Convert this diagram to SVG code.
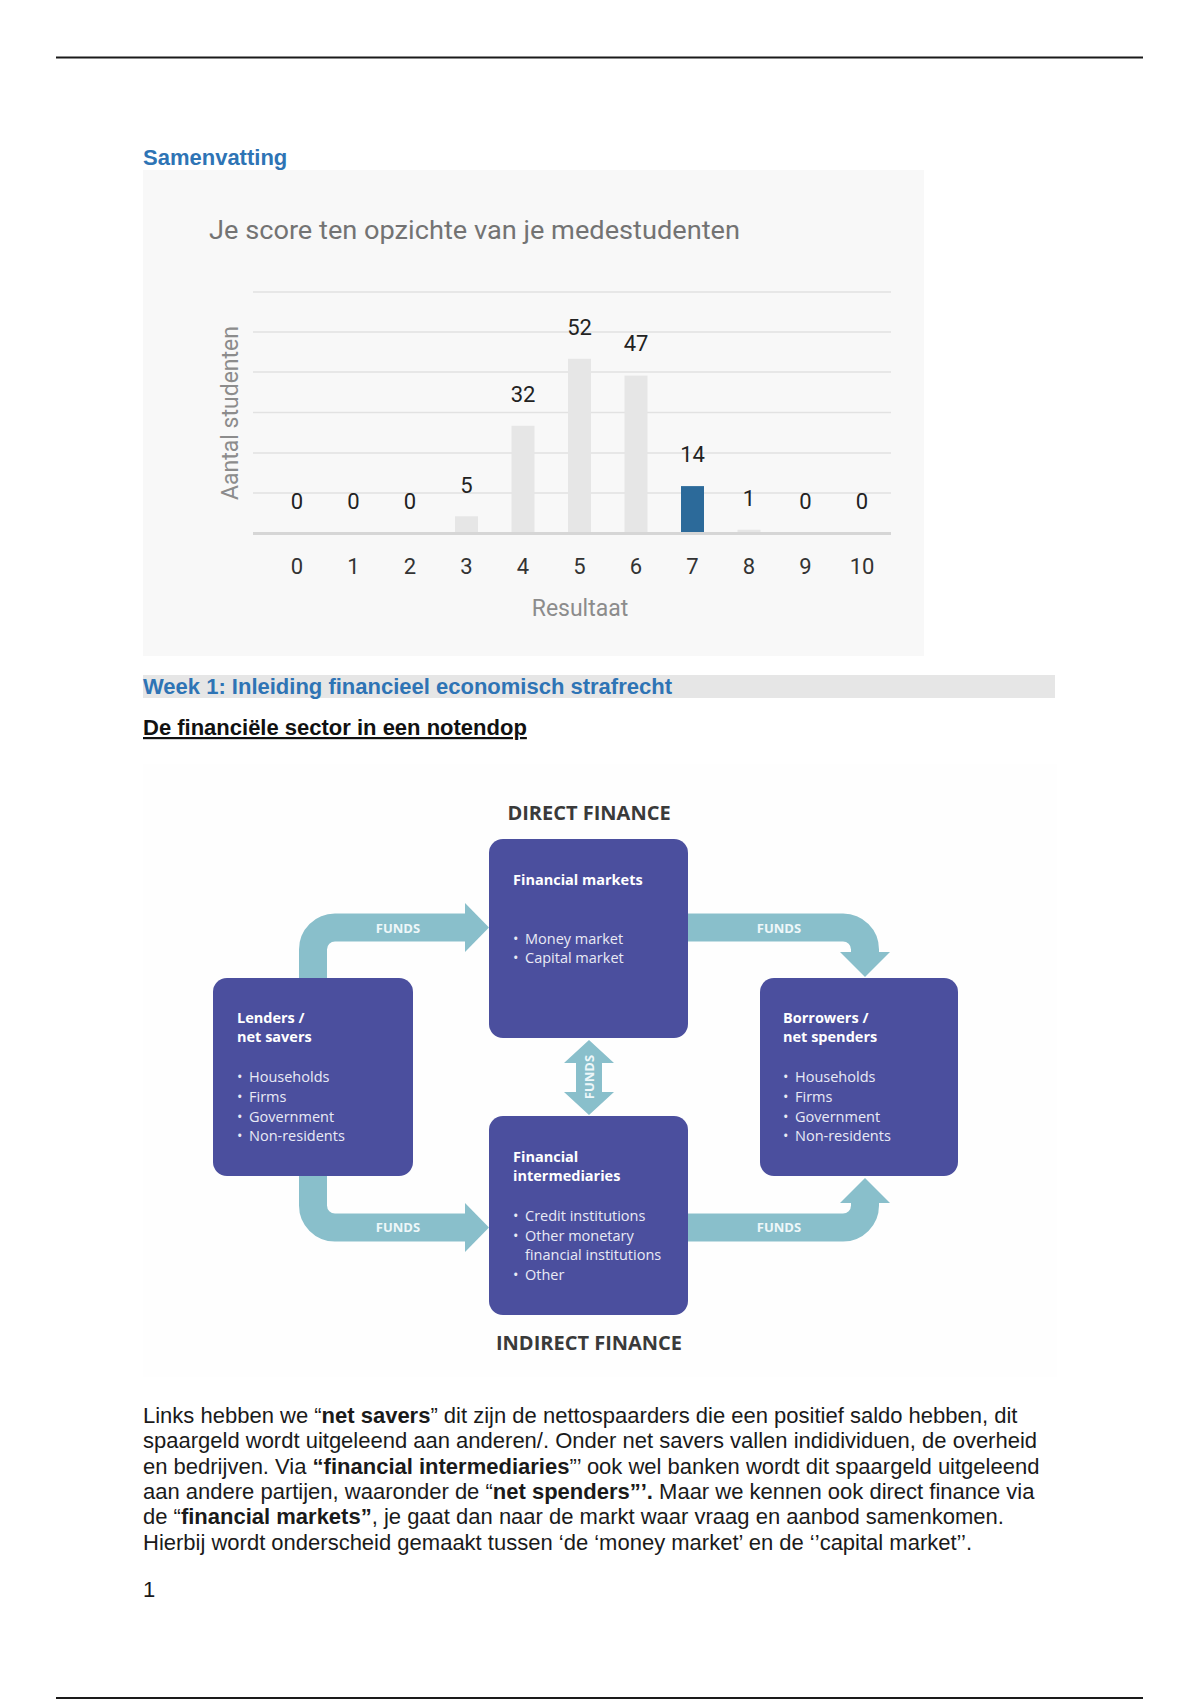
<svg xmlns="http://www.w3.org/2000/svg" width="1200" height="1700" viewBox="0 0 1200 1700">
<style>
.rule{stroke:#1a1a1a;stroke-width:2.2}
.h1{font-family:"Liberation Sans",Arial,sans-serif;font-size:22px;font-weight:bold;fill:#2e74b5}
.body{font-family:"Liberation Sans",Arial,sans-serif;font-size:22px;fill:#1a1a1a}
.grid{stroke:#e2e2e2;stroke-width:1.6}
.bar{fill:#e6e6e6}
.val{font-family:Roboto,"Liberation Sans",sans-serif;font-size:22px;fill:#222;text-anchor:middle}
.tick{font-family:Roboto,"Liberation Sans",sans-serif;font-size:22px;fill:#333;text-anchor:middle}
.axt{font-family:Roboto,"Liberation Sans",sans-serif;font-size:23px;fill:#8c8c8c;text-anchor:middle}
.band{fill:none;stroke:#89bfcb;stroke-width:28}
.head{fill:#89bfcb}
.funds{font-family:"Open Sans","Liberation Sans",sans-serif;font-size:13px;font-weight:bold;fill:#eef7f9;text-anchor:middle}
.box{fill:#4b4f9e}
.bt{font-family:"Open Sans","Liberation Sans",sans-serif;font-size:14.5px;font-weight:bold;fill:#ffffff}
.bi{font-family:"Open Sans","Liberation Sans",sans-serif;font-size:14.5px;fill:#e9eaf5}
.fin{font-family:"Open Sans","Liberation Sans",sans-serif;font-size:20px;font-weight:bold;fill:#3a3a3a;text-anchor:middle}
</style>
<rect width="1200" height="1700" fill="#ffffff"/>
<line class="rule" x1="56" y1="57.5" x2="1143" y2="57.5"/>
<line class="rule" x1="56" y1="1698" x2="1143" y2="1698"/>

<text class="h1" x="143" y="165">Samenvatting</text>

<g id="chart">
<rect x="143" y="170" width="781" height="486" fill="#f8f8f8"/>
<text x="209" y="239" font-family="Roboto,'Liberation Sans',sans-serif" font-size="26" fill="#737373" textLength="531" lengthAdjust="spacingAndGlyphs">Je score ten opzichte van je medestudenten</text>
<g>
<line class="grid" x1="253" y1="292" x2="891" y2="292"/>
<line class="grid" x1="253" y1="332" x2="891" y2="332"/>
<line class="grid" x1="253" y1="372" x2="891" y2="372"/>
<line class="grid" x1="253" y1="412.5" x2="891" y2="412.5"/>
<line class="grid" x1="253" y1="453" x2="891" y2="453"/>
<line class="grid" x1="253" y1="493" x2="891" y2="493"/>
</g>
<rect class="bar" x="455" y="516.3" width="23" height="16.7"/>
<rect class="bar" x="511.5" y="425.8" width="23" height="107.2"/>
<rect class="bar" x="568" y="358.8" width="23" height="174.2"/>
<rect class="bar" x="624.5" y="375.6" width="23" height="157.4"/>
<rect x="681" y="486.1" width="23" height="46.9" fill="#2c6a9a"/>
<rect class="bar" x="737.5" y="529.7" width="23" height="3.3"/>
<line x1="253" y1="533.5" x2="891" y2="533.5" stroke="#d6d6d6" stroke-width="3"/>
<g>
<text class="val" x="297" y="509">0</text>
<text class="val" x="353.5" y="509">0</text>
<text class="val" x="410" y="509">0</text>
<text class="val" x="466.5" y="493">5</text>
<text class="val" x="523" y="402">32</text>
<text class="val" x="579.5" y="335">52</text>
<text class="val" x="636" y="351">47</text>
<text class="val" x="692.5" y="462">14</text>
<text class="val" x="749" y="506">1</text>
<text class="val" x="805.5" y="509">0</text>
<text class="val" x="862" y="509">0</text>
</g>
<g>
<text class="tick" x="297" y="574">0</text>
<text class="tick" x="353.5" y="574">1</text>
<text class="tick" x="410" y="574">2</text>
<text class="tick" x="466.5" y="574">3</text>
<text class="tick" x="523" y="574">4</text>
<text class="tick" x="579.5" y="574">5</text>
<text class="tick" x="636" y="574">6</text>
<text class="tick" x="692.5" y="574">7</text>
<text class="tick" x="749" y="574">8</text>
<text class="tick" x="805.5" y="574">9</text>
<text class="tick" x="862" y="574">10</text>
</g>
<text class="axt" x="580" y="616">Resultaat</text>
<text class="axt" transform="translate(238,413) rotate(-90)">Aantal studenten</text>
</g>

<rect x="143" y="675" width="912" height="23" fill="#e6e6e6"/>
<text class="h1" x="143" y="694">Week 1: Inleiding financieel economisch strafrecht</text>
<text x="143" y="735" font-family="'Liberation Sans',Arial,sans-serif" font-size="22" font-weight="bold" fill="#111" text-decoration="underline">De financiële sector in een notendop</text>

<rect x="143" y="764" width="914" height="613" fill="#fefefe"/>
<text class="fin" x="589" y="820">DIRECT FINANCE</text>
<text class="fin" x="589" y="1350">INDIRECT FINANCE</text>

<g id="connectors">
<path class="band" d="M313,990 V949.5 A22,22 0 0 1 335,927.5 H466"/>
<polygon class="head" points="465,903 489,927.5 465,952"/>
<path class="band" d="M676,927.5 H843 A22,22 0 0 1 865,949.5 V953"/>
<polygon class="head" points="840,952 890,952 865,977"/>
<path class="band" d="M313,1165 V1205.5 A22,22 0 0 0 335,1227.5 H466"/>
<polygon class="head" points="465,1203 489,1227.5 465,1252"/>
<path class="band" d="M676,1227.5 H843 A22,22 0 0 0 865,1205.5 V1202"/>
<polygon class="head" points="840,1203 890,1203 865,1178"/>
<polygon class="head" points="589,1040 614,1063 602,1063 602,1092 614,1092 589,1115 564,1092 576,1092 576,1063 564,1063"/>
<text class="funds" x="398" y="932.5">FUNDS</text>
<text class="funds" x="779" y="932.5">FUNDS</text>
<text class="funds" x="398" y="1232">FUNDS</text>
<text class="funds" x="779" y="1232">FUNDS</text>
<text class="funds" font-size="12" transform="translate(594,1077) rotate(-90)">FUNDS</text>
</g>

<g id="financial-markets">
<rect class="box" x="489" y="839" width="199" height="199" rx="14"/>
<text class="bt" x="513" y="885">Financial markets</text>
<text class="bi" x="513" y="944">•<tspan x="525">Money market</tspan></text>
<text class="bi" x="513" y="963">•<tspan x="525">Capital market</tspan></text>
</g>

<g id="lenders">
<rect class="box" x="213" y="978" width="200" height="198" rx="14"/>
<text class="bt" x="237" y="1023">Lenders /</text>
<text class="bt" x="237" y="1042">net savers</text>
<text class="bi" x="237" y="1082">•<tspan x="249">Households</tspan></text>
<text class="bi" x="237" y="1102">•<tspan x="249">Firms</tspan></text>
<text class="bi" x="237" y="1122">•<tspan x="249">Government</tspan></text>
<text class="bi" x="237" y="1141">•<tspan x="249">Non-residents</tspan></text>
</g>

<g id="borrowers">
<rect class="box" x="760" y="978" width="198" height="198" rx="14"/>
<text class="bt" x="783" y="1023">Borrowers /</text>
<text class="bt" x="783" y="1042">net spenders</text>
<text class="bi" x="783" y="1082">•<tspan x="795">Households</tspan></text>
<text class="bi" x="783" y="1102">•<tspan x="795">Firms</tspan></text>
<text class="bi" x="783" y="1122">•<tspan x="795">Government</tspan></text>
<text class="bi" x="783" y="1141">•<tspan x="795">Non-residents</tspan></text>
</g>

<g id="financial-intermediaries">
<rect class="box" x="489" y="1116" width="199" height="199" rx="14"/>
<text class="bt" x="513" y="1162">Financial</text>
<text class="bt" x="513" y="1181">intermediaries</text>
<text class="bi" x="513" y="1221">•<tspan x="525">Credit institutions</tspan></text>
<text class="bi" x="513" y="1241">•<tspan x="525">Other monetary</tspan></text>
<text class="bi" x="525" y="1260">financial institutions</text>
<text class="bi" x="513" y="1280">•<tspan x="525">Other</tspan></text>
</g>

<g>
<text class="body" x="143" y="1423">Links hebben we “<tspan font-weight="bold">net savers</tspan>” dit zijn de nettospaarders die een positief saldo hebben, dit</text>
<text class="body" x="143" y="1448.3">spaargeld wordt uitgeleend aan anderen/. Onder net savers vallen indidividuen, de overheid</text>
<text class="body" x="143" y="1473.6">en bedrijven. Via <tspan font-weight="bold">“financial intermediaries</tspan>”’ ook wel banken wordt dit spaargeld uitgeleend</text>
<text class="body" x="143" y="1498.9">aan andere partijen, waaronder de “<tspan font-weight="bold">net spenders”’.</tspan> Maar we kennen ook direct finance via</text>
<text class="body" x="143" y="1524.2">de “<tspan font-weight="bold">financial markets”</tspan>, je gaat dan naar de markt waar vraag en aanbod samenkomen.</text>
<text class="body" x="143" y="1549.5">Hierbij wordt onderscheid gemaakt tussen ‘de ‘money market’ en de ‘’capital market’’.</text>
<text class="body" x="143" y="1597">1</text>
</g>
</svg>
